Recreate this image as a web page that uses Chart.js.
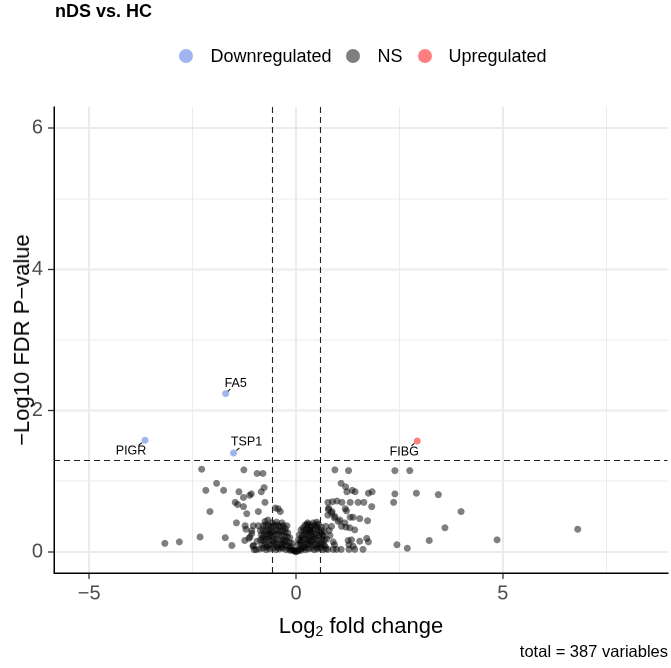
<!DOCTYPE html>
<html>
<head>
<meta charset="utf-8">
<script src="https://cdn.jsdelivr.net/npm/chart.js@4.4.1/dist/chart.umd.min.js"></script>
<style>
html,body{margin:0;padding:0;background:#fff;}
#wrap{position:relative;width:671px;height:668px;font-family:"Liberation Sans",Arial,Helvetica,sans-serif;color:#000;overflow:hidden;}
#wrap canvas{position:absolute;left:0;top:0;}
.ttl{position:absolute;left:55px;top:0px;font-weight:bold;font-size:18px;line-height:22px;white-space:nowrap;}
.legend{position:absolute;left:56px;width:614px;top:45px;height:22px;display:flex;justify-content:center;align-items:center;font-size:18px;white-space:nowrap;}
.legend .item{display:flex;align-items:center;margin:0 7.5px;}
.legend .dot{width:14px;height:14px;border-radius:50%;margin-right:17px;}
.xt{position:absolute;left:54px;width:614px;top:613px;text-align:center;font-size:22px;line-height:26px;white-space:nowrap;}
.xt sub{font-size:14px;vertical-align:-3px;line-height:0;}
.yt{position:absolute;left:22px;top:340px;transform:translate(-50%,-50%) rotate(-90deg);font-size:22px;line-height:26px;white-space:nowrap;}
.cap{position:absolute;right:3px;top:641px;font-size:16.5px;line-height:20px;white-space:nowrap;}
</style>
</head>
<body>
<div id="wrap">
<canvas id="c" width="671" height="668"></canvas>
<div class="ttl">nDS vs. HC</div>
<div class="legend" id="legend"></div>
<div class="xt">Log<sub>2</sub> fold change</div>
<div class="yt">−Log10 FDR P−value</div>
<div class="cap">total = 387 variables</div>
</div>
<script>
// ---------- data ----------
const groupNames = ['Downregulated', 'NS', 'Upregulated'];

// labelled significant proteins
const sigNames = ['PIGR', 'FA5', 'TSP1', 'FIBG'];
const sigFC    = [-3.65, -1.70, -1.51, 2.93];
const sigP     = [1.58, 2.24, 1.40, 1.57];
const sigGroup = ['Downregulated', 'Downregulated', 'Downregulated', 'Upregulated'];

// non-significant proteins [log2FC, -log10 FDR]
const nsPoints = [
 [-3.17,0.12],[-2.82,0.14],[-2.32,0.21],[-2.28,1.17],[-2.18,0.87],[-2.08,0.57],[-1.92,0.97],[-1.75,0.87],
 [-1.71,0.20],[-1.55,0.09],[-1.47,0.70],[-1.44,0.41],[-1.41,0.67],[-1.38,0.85],[-1.27,0.77],[-1.27,0.64],
 [-1.26,1.16],[-1.24,0.16],[-1.23,0.37],[-1.21,0.32],[-1.19,0.54],[-1.14,0.19],[-1.12,0.80],[-1.08,0.82],
 [-1.07,0.26],[-1.07,0.30],[-1.11,0.21],[-1.03,0.09],[-1.04,0.08],[-1.01,0.03],[-0.94,0.15],[-1.03,0.37],
 [-0.96,0.03],[-0.94,1.11],[-0.91,0.57],[-0.91,0.37],[-0.84,0.85],[-0.80,1.11],[-0.77,0.91],[-0.75,0.70],
 [-0.79,0.37],[-0.73,0.38],[-0.67,0.37],[-0.61,0.36],[-0.55,0.37],[-0.49,0.38],[-0.43,0.37],[-0.37,0.36],
 [-0.31,0.37],[-0.22,0.37],[-0.50,0.62],[-0.43,0.61],[-0.38,0.57],[-0.75,0.43],[-0.68,0.45],
 [-0.86,0.30],[-0.80,0.31],[-0.74,0.29],[-0.68,0.30],[-0.62,0.31],[-0.56,0.29],[-0.50,0.30],[-0.44,0.31],
 [-0.38,0.29],[-0.32,0.30],[-0.26,0.28],
 [-0.84,0.24],[-0.77,0.23],[-0.70,0.25],[-0.63,0.24],[-0.56,0.23],[-0.49,0.24],[-0.42,0.25],[-0.35,0.23],
 [-0.28,0.22],[-0.21,0.21],
 [-0.86,0.17],[-0.79,0.16],[-0.72,0.18],[-0.65,0.17],[-0.58,0.16],[-0.51,0.18],[-0.44,0.17],[-0.37,0.16],
 [-0.30,0.17],[-0.23,0.15],[-0.16,0.13],
 [-0.82,0.10],[-0.75,0.11],[-0.68,0.09],[-0.61,0.10],[-0.54,0.11],[-0.47,0.09],[-0.40,0.10],[-0.33,0.11],
 [-0.26,0.09],[-0.19,0.08],[-0.12,0.07],
 [-0.88,0.04],[-0.80,0.05],[-0.72,0.03],[-0.64,0.04],[-0.56,0.05],[-0.48,0.03],[-0.40,0.04],[-0.32,0.05],
 [-0.24,0.03],[-0.17,0.04],[-0.10,0.03],[-0.05,0.02],
 [-0.06,0.02],[-0.03,0.01],[0.00,0.00],[0.03,0.01],[0.06,0.02],[-0.14,0.02],[0.12,0.02],
 [-0.58,0.41],[-0.47,0.42],[-0.34,0.41],[-0.26,0.33],[-0.20,0.27],[-0.15,0.20],[-0.09,0.12],[-0.66,0.21],
 [-0.53,0.14],[-0.45,0.06],[-0.35,0.07],[-0.28,0.14],[-0.60,0.27],[-0.81,0.20],[-0.71,0.07],
 [0.22,0.38],[0.30,0.39],[0.38,0.37],[0.46,0.38],[0.54,0.39],[0.28,0.41],
 [0.12,0.31],[0.19,0.30],[0.26,0.32],[0.33,0.31],[0.40,0.30],[0.47,0.32],[0.54,0.31],[0.61,0.30],
 [0.08,0.24],[0.15,0.23],[0.22,0.25],[0.29,0.24],[0.36,0.23],[0.43,0.25],[0.50,0.24],[0.57,0.23],[0.64,0.25],
 [0.06,0.17],[0.13,0.16],[0.20,0.18],[0.27,0.17],[0.34,0.16],[0.41,0.18],[0.48,0.17],[0.55,0.16],[0.62,0.18],[0.69,0.17],
 [0.05,0.10],[0.11,0.11],[0.18,0.09],[0.25,0.10],[0.32,0.11],[0.39,0.09],[0.46,0.10],[0.53,0.11],[0.60,0.09],[0.67,0.10],
 [0.09,0.04],[0.16,0.05],[0.23,0.03],[0.30,0.04],[0.37,0.05],[0.44,0.03],[0.51,0.04],[0.58,0.05],[0.65,0.03],[0.72,0.04],
 [0.17,0.34],[0.24,0.28],[0.35,0.35],[0.42,0.41],[0.50,0.42],[0.31,0.20],[0.39,0.14],[0.14,0.20],[0.10,0.14],
 [0.45,0.21],[0.52,0.07],[0.58,0.27],[0.21,0.06],[0.27,0.13],[0.36,0.28],
 [0.94,1.16],[1.27,1.15],[2.39,1.15],[2.75,1.15],[1.09,0.97],[1.20,0.92],[1.23,0.85],[1.36,0.87],
 [1.43,0.85],[1.75,0.83],[1.84,0.85],[2.39,0.82],[2.91,0.83],[3.44,0.81],[2.36,0.70],[0.77,0.70],
 [0.88,0.71],[0.99,0.72],[1.11,0.70],[1.31,0.70],[1.50,0.70],[1.64,0.70],[1.83,0.64],[0.79,0.62],
 [0.87,0.57],[1.19,0.61],[1.22,0.58],[3.99,0.57],[0.77,0.52],[0.93,0.48],[1.02,0.43],[1.10,0.36],
 [1.21,0.35],[1.30,0.34],[1.31,0.49],[1.38,0.49],[1.54,0.47],[1.73,0.44],[3.60,0.34],[6.81,0.32],
 [0.26,0.38],[0.34,0.31],[0.51,0.35],[0.61,0.35],[0.72,0.36],[0.86,0.36],[0.82,0.23],[0.66,0.22],
 [1.26,0.16],[1.28,0.10],[1.38,0.08],[1.71,0.19],[1.75,0.14],[3.22,0.16],[4.86,0.17],[2.44,0.10],
 [2.69,0.05],[0.90,0.14],[0.93,0.10],[0.77,0.035],[0.90,0.035],[0.98,0.035],[1.09,0.035],[1.28,0.035],
 [1.42,0.035],[1.62,0.035],[0.78,0.60],[0.86,0.55],[0.94,0.50],[1.06,0.45],[1.18,0.41],[1.42,0.31],
 [1.54,0.15],[1.34,0.17],[0.62,0.12],[0.68,0.28],[0.70,0.08],[0.74,0.18],[0.80,0.30]
];

// thresholds
const fcCutoffs = [-0.585, 0.585];
const pCutoff = 1.301;

// axes
const xRange = [-5.85, 8.98];
const yRange = [-0.3, 6.3];
const xGridValues = [-5, -2.5, 0, 2.5, 5, 7.5];
const xTickLabels = [-5, 0, 5];
const yGridValues = [0, 1, 2, 3, 4, 5, 6];
const yTickLabels = [0, 2, 4, 6];

// ---------- styles ----------
const groupColors = {
  'Downregulated': 'rgba(65,105,225,0.5)',
  'NS': 'rgba(0,0,0,0.5)',
  'Upregulated': 'rgba(255,0,0,0.5)'
};
const labelOffset = {PIGR:[-14,11], FA5:[10,-10], TSP1:[13,-11], FIBG:[-13,11]};
const FONT = '"Liberation Sans", Arial, Helvetica, sans-serif';

// legend (HTML)
const leg = document.getElementById('legend');
groupNames.forEach(g => {
  const it = document.createElement('div'); it.className = 'item';
  const d = document.createElement('div'); d.className = 'dot'; d.style.background = groupColors[g];
  const t = document.createElement('span'); t.textContent = g;
  it.appendChild(d); it.appendChild(t); leg.appendChild(it);
});

function sigData(group) {
  const out = [];
  sigNames.forEach((n, i) => { if (sigGroup[i] === group) out.push({x: sigFC[i], y: sigP[i], name: n}); });
  return out;
}

const fmt = v => String(v).replace('-', '\u2212');

const overlay = {
  id: 'overlay',
  afterDatasetsDraw(chart) {
    const {ctx, chartArea: a, scales: {x, y}} = chart;
    ctx.save();
    ctx.beginPath(); ctx.rect(a.left, a.top, a.right - a.left, a.bottom - a.top); ctx.clip();
    ctx.strokeStyle = '#222'; ctx.lineWidth = 1.1; ctx.setLineDash([6, 4]);
    fcCutoffs.forEach(c => {
      const px = Math.round(x.getPixelForValue(c)) + 0.5;
      ctx.beginPath(); ctx.moveTo(px, a.top); ctx.lineTo(px, a.bottom); ctx.stroke();
    });
    const py = Math.round(y.getPixelForValue(pCutoff)) + 0.5;
    ctx.beginPath(); ctx.moveTo(a.left, py); ctx.lineTo(a.right, py); ctx.stroke();
    ctx.setLineDash([]);
    // labels
    ctx.font = '12.5px ' + FONT; ctx.fillStyle = '#000'; ctx.textAlign = 'center'; ctx.textBaseline = 'middle';
    sigNames.forEach((n, i) => {
      const px = x.getPixelForValue(sigFC[i]), pyy = y.getPixelForValue(sigP[i]);
      const o = labelOffset[n];
      ctx.fillText(n, px + o[0], pyy + o[1]);
      ctx.strokeStyle = '#000'; ctx.lineWidth = 1;
      ctx.beginPath();
      ctx.moveTo(px + o[0] * 0.22, pyy + o[1] * 0.22);
      ctx.lineTo(px + o[0] * 0.45, pyy + o[1] * 0.45);
      ctx.stroke();
    });
    ctx.restore();
  }
};

const gridCommon = (majors) => ({
  color: '#ebebeb',
  lineWidth: c => majors.includes(c.tick && c.tick.value) ? 2 : 1,
  tickColor: c => majors.includes(c.tick && c.tick.value) ? '#333' : 'rgba(0,0,0,0)',
  tickLength: 6,
  tickWidth: 1.3,
  drawTicks: true
});

new Chart(document.getElementById('c'), {
  type: 'scatter',
  data: {
    datasets: [
      {label: 'NS', data: nsPoints.map(p => ({x: p[0], y: p[1]})), backgroundColor: groupColors['NS']},
      {label: 'Downregulated', data: sigData('Downregulated'), backgroundColor: groupColors['Downregulated']},
      {label: 'Upregulated', data: sigData('Upregulated'), backgroundColor: groupColors['Upregulated']}
    ]
  },
  options: {
    responsive: false,
    animation: false,
    events: [],
    devicePixelRatio: 2,
    elements: {point: {radius: 3.5, borderWidth: 0, hoverRadius: 3.5}},
    layout: {padding: {left: 0, top: 107, right: 3, bottom: 0}},
    plugins: {legend: {display: false}, tooltip: {enabled: false}},
    scales: {
      x: {
        type: 'linear', min: xRange[0], max: xRange[1],
        afterFit(s) { s.height = 95; },
        afterBuildTicks(s) { s.ticks = xGridValues.map(v => ({value: v})); },
        grid: gridCommon(xTickLabels),
        border: {display: true, color: '#000', width: 1.5},
        ticks: {
          autoSkip: false, maxRotation: 0, padding: 3, color: '#4d4d4d',
          font: {size: 20, family: FONT},
          callback: v => xTickLabels.includes(v) ? fmt(v) : ''
        }
      },
      y: {
        type: 'linear', min: yRange[0], max: yRange[1],
        afterFit(s) { s.width = 54; },
        afterBuildTicks(s) { s.ticks = yGridValues.map(v => ({value: v})); },
        grid: gridCommon(yTickLabels),
        border: {display: true, color: '#000', width: 1.5},
        ticks: {
          autoSkip: false, padding: 5, color: '#4d4d4d',
          font: {size: 20, family: FONT},
          callback: v => yTickLabels.includes(v) ? fmt(v) : ''
        }
      }
    }
  },
  plugins: [overlay]
});
</script>
</body>
</html>
